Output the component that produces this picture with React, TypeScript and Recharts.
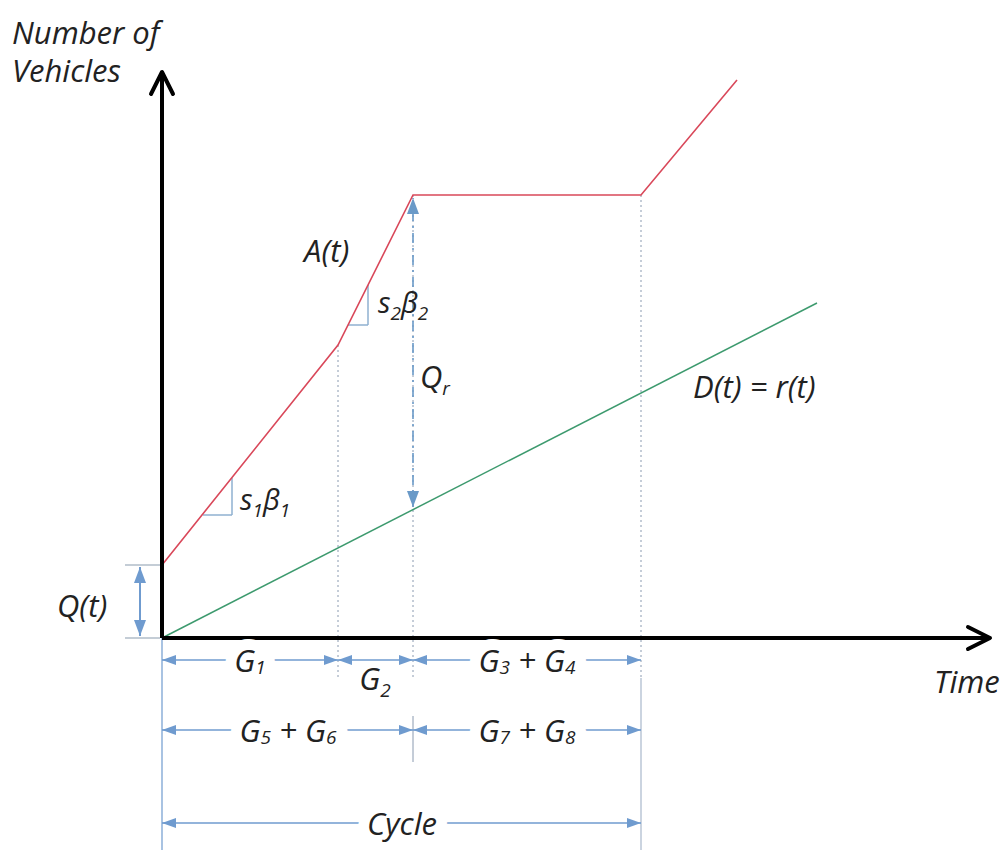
import { ComposedChart, Line, XAxis, YAxis, ReferenceLine, ReferenceDot } from 'recharts';

// plot units: time along x, vehicles along y
const arrivalTime = [0, 176, 251, 479, 575];
const arrivalCount = [73, 293, 443, 443, 558];
const departureTime = [0, 655];
const departureCount = [0, 335];
const phaseBounds = [0, 176, 251, 479];
const queueAtStart = 73;
const qrBottom = 131;
const rowLevels = [-22, -92, -185];

const arrivals = arrivalTime.map((t, i) => ({ t, n: arrivalCount[i] }));
const departures = departureTime.map((t, i) => ({ t, n: departureCount[i] }));

const FONT = "'Open Sans', Lato, sans-serif";
const BLUE = '#6f9bcf';
const RED = '#d9485a';
const GREEN = '#3d9a6e';

type ArrowOpts = {
  color: string;
  width?: number;
  dash?: string;
  start?: boolean;
  end?: boolean;
  open?: boolean;
  len?: number;
  half?: number;
};

const arrowShape = (o: ArrowOpts) => (p: any) => {
  const { x1, y1, x2, y2 } = p;
  const len = o.len ?? 14;
  const half = o.half ?? 6;
  const dx = x2 - x1;
  const dy = y2 - y1;
  const d = Math.hypot(dx, dy) || 1;
  const ux = dx / d;
  const uy = dy / d;
  const nx = -uy;
  const ny = ux;
  const head = (tx: number, ty: number, sx: number, sy: number, key: string) => {
    const bx = tx - sx * len;
    const by = ty - sy * len;
    const a = `${bx + nx * half},${by + ny * half}`;
    const b = `${bx - nx * half},${by - ny * half}`;
    return o.open ? (
      <polyline key={key} points={`${a} ${tx},${ty} ${b}`} fill="none" stroke={o.color} strokeWidth={o.width ?? 1.5} strokeLinecap="round" strokeLinejoin="round" />
    ) : (
      <polygon key={key} points={`${a} ${tx},${ty} ${b}`} fill={o.color} />
    );
  };
  return (
    <g>
      <line x1={x1} y1={y1} x2={x2} y2={y2} stroke={o.color} strokeWidth={o.width ?? 1.5} strokeDasharray={o.dash} />
      {o.end && head(x2, y2, ux, uy, 'e')}
      {o.start && head(x1, y1, -ux, -uy, 's')}
    </g>
  );
};

const label = (content: any, anchor: string = 'start', halo = false, size = 31) => (p: any) => {
  const common = {
    x: p.cx,
    y: p.cy,
    textAnchor: anchor,
    dominantBaseline: halo ? 'central' : 'auto',
    fontFamily: FONT,
    fontStyle: 'italic',
    fontSize: size,
  } as any;
  return (
    <g>
      {halo && (
        <text {...common} fill="#fff" stroke="#fff" strokeWidth={22} strokeLinejoin="round">
          {content}
        </text>
      )}
      <text {...common} fill="#222">
        {content}
      </text>
    </g>
  );
};

const sub = (s: string) => (
  <tspan fontSize={19} dy={7}>
    {s}
  </tspan>
);

const G = (a: string, b?: string) =>
  b ? (
    <>
      G{sub(a)}
      <tspan dy={-7}> + G</tspan>
      {sub(b)}
    </>
  ) : (
    <>
      G{sub(a)}
    </>
  );

const seg = (x1: number, y1: number, x2: number, y2: number) => [
  { x: x1, y: y1 },
  { x: x2, y: y2 },
];

const dimArrow = arrowShape({ color: BLUE, width: 1.6, start: true, end: true, len: 14, half: 5 });

export default function App() {
  const [b0, b1, b2, b3] = phaseBounds;
  const [r1, r2, r3] = rowLevels;
  return (
    <div style={{ position: 'absolute', left: 0, top: 0, background: '#fff' }}>
      <ComposedChart width={1003} height={852} margin={{ top: 0, right: 0, bottom: 0, left: 0 }}>
        <XAxis type="number" dataKey="t" hide domain={[-162, 841]} allowDataOverflow />
        <YAxis type="number" dataKey="n" hide domain={[-214, 638]} allowDataOverflow />

        {/* guide lines */}
        <ReferenceLine ifOverflow="visible" segment={seg(b0, 0, b0, -212)} stroke={BLUE} strokeWidth={1.2} />
        <ReferenceLine ifOverflow="visible" segment={seg(b1, arrivalCount[1], b1, -40)} stroke="#8a9ab0" strokeWidth={1} strokeDasharray="2 3" />
        <ReferenceLine ifOverflow="visible" segment={seg(b2, arrivalCount[2], b2, -40)} stroke="#8a9ab0" strokeWidth={1} strokeDasharray="2 3" />
        <ReferenceLine ifOverflow="visible" segment={seg(b2, -78, b2, -124)} stroke="#8a9ab0" strokeWidth={1} />
        <ReferenceLine ifOverflow="visible" segment={seg(b3, arrivalCount[3], b3, -40)} stroke="#8a9ab0" strokeWidth={1} strokeDasharray="2 3" />
        <ReferenceLine ifOverflow="visible" segment={seg(b3, -40, b3, -212)} stroke="#a8b8cc" strokeWidth={1.2} />

        {/* slope triangles */}
        <ReferenceLine ifOverflow="visible" segment={seg(41, 123, 70, 123)} stroke="#8fb0d0" strokeWidth={1.5} />
        <ReferenceLine ifOverflow="visible" segment={seg(70, 123, 70, 160)} stroke="#8fb0d0" strokeWidth={1.5} />
        <ReferenceLine ifOverflow="visible" segment={seg(186, 313, 206, 313)} stroke="#8fb0d0" strokeWidth={1.5} />
        <ReferenceLine ifOverflow="visible" segment={seg(206, 313, 206, 353)} stroke="#8fb0d0" strokeWidth={1.5} />

        {/* Q(t) marker */}
        <ReferenceLine ifOverflow="visible" segment={seg(-37, queueAtStart, -2, queueAtStart)} stroke="#b0bcc8" strokeWidth={1.5} />
        <ReferenceLine ifOverflow="visible" segment={seg(-37, 0, -2, 0)} stroke="#b0bcc8" strokeWidth={1.5} />
        <ReferenceLine ifOverflow="visible" segment={seg(-22, 2, -22, queueAtStart - 2)} shape={arrowShape({ color: BLUE, width: 2, start: true, end: true, len: 16, half: 6 })} />

        {/* Qr marker */}
        <ReferenceLine ifOverflow="visible" segment={seg(b2, qrBottom, b2, arrivalCount[2] - 3)} shape={arrowShape({ color: '#6a9ac8', width: 1.6, dash: '10 5 2 5', start: true, end: true, len: 16, half: 6 })} />

        <Line data={departures} dataKey="n" type="linear" stroke={GREEN} strokeWidth={1.5} dot={false} activeDot={false} strokeLinecap="butt" isAnimationActive={false} />
        <Line data={arrivals} dataKey="n" type="linear" stroke={RED} strokeWidth={1.6} dot={false} activeDot={false} strokeLinecap="butt" isAnimationActive={false} />

        {/* main axes */}
        <ReferenceLine ifOverflow="visible" segment={seg(0, 0, 0, 566)} shape={arrowShape({ color: '#000', width: 4, end: true, open: true, len: 22, half: 11 })} />
        <ReferenceLine ifOverflow="visible" segment={seg(0, 0, 828, 0)} shape={arrowShape({ color: '#000', width: 4, end: true, open: true, len: 22, half: 11 })} />

        {/* dimension arrows */}
        <ReferenceLine ifOverflow="visible" segment={seg(b0, r1, b1, r1)} shape={dimArrow} />
        <ReferenceLine ifOverflow="visible" segment={seg(b1, r1, b2, r1)} shape={dimArrow} />
        <ReferenceLine ifOverflow="visible" segment={seg(b2, r1, b3, r1)} shape={dimArrow} />
        <ReferenceLine ifOverflow="visible" segment={seg(b0, r2, b2, r2)} shape={dimArrow} />
        <ReferenceLine ifOverflow="visible" segment={seg(b2, r2, b3, r2)} shape={dimArrow} />
        <ReferenceLine ifOverflow="visible" segment={seg(b0, r3, b3, r3)} shape={dimArrow} />

        {/* labels */}
        <ReferenceDot ifOverflow="visible" x={-150} y={594} r={0} shape={label('Number of')} />
        <ReferenceDot ifOverflow="visible" x={-150} y={556} r={0} shape={label('Vehicles')} />
        <ReferenceDot ifOverflow="visible" x={142} y={376} r={0} shape={label('A(t)')} />
        <ReferenceDot ifOverflow="visible" x={216} y={325} r={0} shape={label(<>s{sub('2')}<tspan dy={-7}>β</tspan>{sub('2')}</>, 'start', false, 29)} />
        <ReferenceDot ifOverflow="visible" x={258} y={250} r={0} shape={label(<>Q{sub('r')}</>)} />
        <ReferenceDot ifOverflow="visible" x={531} y={240} r={0} shape={label('D(t) = r(t)')} />
        <ReferenceDot ifOverflow="visible" x={78} y={128} r={0} shape={label(<>s{sub('1')}<tspan dy={-7}>β</tspan>{sub('1')}</>, 'start', false, 29)} />
        <ReferenceDot ifOverflow="visible" x={-105} y={21} r={0} shape={label('Q(t)')} />
        <ReferenceDot ifOverflow="visible" x={772} y={-55} r={0} shape={label('Time')} />

        <ReferenceDot ifOverflow="visible" x={88} y={r1} r={0} shape={label(G('1'), 'middle', true)} />
        <ReferenceDot ifOverflow="visible" x={365} y={r1} r={0} shape={label(G('3', '4'), 'middle', true)} />
        <ReferenceDot ifOverflow="visible" x={213} y={-52} r={0} shape={label(G('2'), 'middle', false)} />
        <ReferenceDot ifOverflow="visible" x={126} y={r2} r={0} shape={label(G('5', '6'), 'middle', true)} />
        <ReferenceDot ifOverflow="visible" x={365} y={r2} r={0} shape={label(G('7', '8'), 'middle', true)} />
        <ReferenceDot ifOverflow="visible" x={240} y={r3} r={0} shape={label('Cycle', 'middle', true)} />
      </ComposedChart>
    </div>
  );
}
